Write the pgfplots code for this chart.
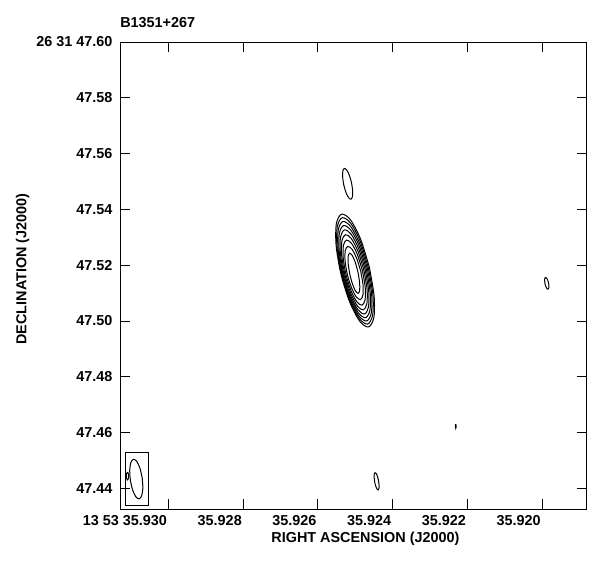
\documentclass[border=0pt]{standalone}
\usepackage{fontspec}
\setmainfont{Liberation Sans}
\usepackage{pgfplots}
\pgfplotsset{compat=1.18}
\begin{document}
\begin{tikzpicture}
\useasboundingbox (-90pt,-54.75pt) rectangle (360pt,381.75pt);
\begin{axis}[
  at={(0pt,0pt)}, anchor=south west,
  scale only axis, width=350pt, height=350.25pt,
  xmin=-1.196, xmax=11.292, ymin=32.58, ymax=200,
  x dir=reverse,
  axis line style={line width=0.6pt, black},
  tick align=inside, major tick length=7.5pt,
  tick style={line width=0.6pt, black},
  xtick={0,2,4,6,8,10},
  xticklabels={35.920,35.922,35.924,35.926,35.928,13 53 35.930},
  ytick={40,60,80,100,120,140,160,180,200},
  yticklabels={47.44,47.46,47.48,47.50,47.52,47.54,47.56,47.58,26 31 47.60},
  /pgf/number format/assume math mode=true,
  tick label style={font=\fontsize{10.8}{13}\selectfont\bfseries},
  x tick label style={anchor=north east, xshift=2.6pt, yshift=-1.6pt},
  y tick label style={anchor=east, xshift=-2.2pt},
  xlabel={RIGHT ASCENSION (J2000)},
  ylabel={DECLINATION (J2000)},
  label style={font=\fontsize{10.8}{13}\selectfont\bfseries},
  x label style={at={(axis description cs:0.526,0)}, anchor=north, yshift=-13.6pt},
  y label style={at={(axis description cs:-0.2088,0.514)}, anchor=center, rotate=0},
  title={B1351+267},
  title style={at={(axis description cs:0,1)}, anchor=south west, inner sep=0pt, yshift=4.5pt, font=\fontsize{10.8}{13}\selectfont\bfseries},
  every axis plot/.append style={black, line width=0.75pt, mark=none},
]
% main source contours (outer to inner)
\addplot[smooth] coordinates {(4.620,119.28) (4.492,109.01) (4.499,101.16) (4.641,97.84) (4.879,99.94) (5.149,106.91) (5.380,116.86) (5.509,127.14) (5.501,134.98) (5.359,138.30) (5.121,136.20) (4.851,129.24) (4.620,119.28)};
\addplot[smooth] coordinates {(4.646,119.09) (4.524,109.41) (4.532,102.01) (4.665,98.88) (4.890,100.87) (5.145,107.42) (5.362,116.81) (5.484,126.49) (5.476,133.89) (5.343,137.02) (5.118,135.03) (4.863,128.48) (4.646,119.09)};
\addplot[smooth] coordinates {(4.673,118.89) (4.559,109.83) (4.566,102.91) (4.691,99.98) (4.901,101.84) (5.140,107.97) (5.343,116.75) (5.457,125.81) (5.450,132.74) (5.325,135.66) (5.115,133.81) (4.876,127.67) (4.673,118.89)};
\addplot[smooth] coordinates {(4.702,118.68) (4.597,110.29) (4.603,103.88) (4.719,101.17) (4.913,102.89) (5.134,108.57) (5.322,116.70) (5.427,125.09) (5.421,131.51) (5.305,134.21) (5.111,132.50) (4.890,126.81) (4.702,118.68)};
\addplot[smooth] coordinates {(4.733,118.47) (4.637,110.81) (4.643,104.96) (4.748,102.49) (4.926,104.06) (5.127,109.25) (5.299,116.67) (5.395,124.33) (5.389,130.18) (5.284,132.65) (5.106,131.08) (4.905,125.89) (4.733,118.47)};
\addplot[smooth] coordinates {(4.767,118.25) (4.681,111.40) (4.686,106.16) (4.780,103.95) (4.939,105.36) (5.119,109.99) (5.273,116.63) (5.359,123.49) (5.354,128.72) (5.260,130.93) (5.101,129.52) (4.921,124.89) (4.767,118.25)};
\addplot[smooth] coordinates {(4.805,118.02) (4.730,112.09) (4.735,107.56) (4.817,105.64) (4.954,106.86) (5.110,110.87) (5.243,116.62) (5.318,122.55) (5.313,127.08) (5.232,129.00) (5.094,127.78) (4.938,123.77) (4.805,118.02)};
\addplot[smooth] coordinates {(4.849,117.76) (4.788,112.92) (4.792,109.22) (4.859,107.65) (4.971,108.65) (5.098,111.93) (5.207,116.62) (5.268,121.46) (5.264,125.16) (5.197,126.73) (5.085,125.73) (4.958,122.45) (4.849,117.76)};
\addplot[smooth] coordinates {(4.922,117.38) (4.880,113.75) (4.878,111.00) (4.918,109.88) (4.988,110.69) (5.070,113.20) (5.142,116.76) (5.184,120.39) (5.186,123.14) (5.146,124.26) (5.076,123.45) (4.994,120.94) (4.922,117.38)};
% contour above the source
\addplot[smooth] coordinates {(5.095,149.46) (5.066,146.67) (5.072,144.54) (5.113,143.65) (5.177,144.24) (5.247,146.15) (5.305,148.86) (5.334,151.66) (5.328,153.78) (5.287,154.67) (5.223,154.08) (5.153,152.17) (5.095,149.46)};
% small contour at right
\addplot[smooth] coordinates {(-0.175,113.61) (-0.186,112.54) (-0.181,111.73) (-0.161,111.38) (-0.133,111.59) (-0.104,112.31) (-0.081,113.35) (-0.070,114.42) (-0.075,115.24) (-0.095,115.58) (-0.123,115.37) (-0.152,114.65) (-0.175,113.61)};
% small contour at bottom
\addplot[smooth] coordinates {(4.372,42.64) (4.359,41.07) (4.363,39.89) (4.384,39.41) (4.416,39.77) (4.450,40.86) (4.478,42.40) (4.491,43.97) (4.487,45.15) (4.466,45.63) (4.434,45.27) (4.400,44.18) (4.372,42.64)};
% tiny contour
\addplot[smooth] coordinates {(2.307,63.03) (2.300,62.60) (2.298,61.90) (2.307,61.49) (2.314,61.90) (2.316,62.60) (2.307,63.03)};
% beam box
\addplot[sharp plot] coordinates {(11.150,52.89) (10.527,52.89) (10.527,34.00) (11.150,34.00) (11.150,52.89)};
% beam ellipse
\addplot[smooth] coordinates {(10.697,43.61) (10.681,40.02) (10.712,37.31) (10.782,36.21) (10.871,37.01) (10.956,39.50) (11.015,43.01) (11.031,46.60) (11.000,49.31) (10.930,50.41) (10.841,49.61) (10.756,47.12) (10.697,43.61)};
% tiny contour inside beam box
\addplot[smooth] coordinates {(11.090,45.80) (11.060,45.00) (11.060,43.80) (11.090,43.00) (11.120,43.80) (11.120,45.00) (11.090,45.80)};
\end{axis}
\end{tikzpicture}
\end{document}
